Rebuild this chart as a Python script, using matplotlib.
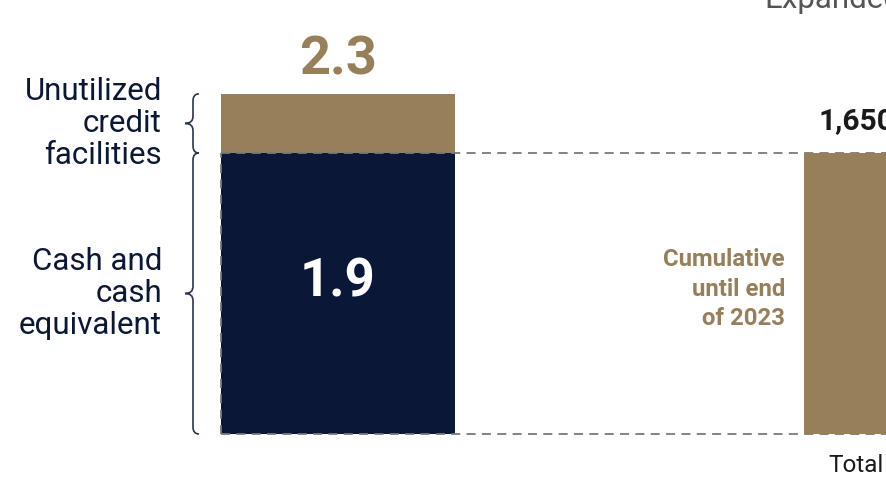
import matplotlib
matplotlib.use("Agg")
import matplotlib.pyplot as plt
from matplotlib.path import Path
from matplotlib.patches import PathPatch

plt.rcParams['font.family'] = ['Roboto', 'DejaVu Sans']

# data (USD bn on the left, units on the right)
cash = 1.9
credit = 0.4
liquidity_total = cash + credit
segment_labels = ['Cash and\ncash\nequivalent', 'Unutilized\ncredit\nfacilities']
right_value = 1650
right_label = 'Total'
right_note = 'Cumulative\nuntil end\nof 2023'
right_title = 'Expanded'

gold = '#977f5a'
navy = '#0b1736'
dash_grey = '#7a7a7a'

fig = plt.figure(figsize=(8.87, 4.79), dpi=100)
ax = fig.add_axes([0, 0, 1, 1])
# x in pixel-like layout units, y in data units
px_per_unit = 281 / cash
ax.set_xlim(0, 887)
ax.set_ylim(-45 / px_per_unit, 434 / px_per_unit)
ax.axis('off')

bar_w = 234
x_left = 338
ax.bar(x_left, cash, width=bar_w, color=navy, zorder=2)
ax.bar(x_left, credit, bottom=cash, width=bar_w, color=gold, zorder=2)

ax.annotate(f'{cash:.1f}', (x_left, cash / 2), xytext=(0, 8),
            textcoords='offset points', color='white', fontsize=38,
            fontweight='bold', ha='center', va='center', zorder=4)
ax.annotate(f'{liquidity_total:.1f}', (x_left, liquidity_total), xytext=(0, 14),
            textcoords='offset points', ha='center', va='baseline',
            fontsize=39, fontweight='bold', color=gold)

# right bar on its own scale, same height as the cash bar
ax2 = ax.twinx()
ax2.set_ylim(ax.get_ylim()[0] * right_value / cash, ax.get_ylim()[1] * right_value / cash)
ax2.axis('off')
x_right = 804 + bar_w / 2
ax2.bar(x_right, right_value, width=bar_w, color=gold, zorder=2)
ax2.annotate(f'{right_value:,}', (819, right_value), xytext=(0, 17),
             textcoords='offset points', ha='left', va='baseline',
             fontsize=21.5, fontweight='bold', color='#1a1a1a')

# dashed guide lines
left_edge = x_left - bar_w / 2
dash = dict(ls=(0, (5, 3.5)), color=dash_grey, lw=1.3, zorder=5)
ax.plot([left_edge, 900], [cash, cash], **dash)
ax.plot([left_edge, 900], [0, 0], **dash)
ax.plot([left_edge, left_edge], [0, cash], **dash)


def brace(y0, y1):
    r = 7 / px_per_unit
    xe, xs, xt = 199, 193, 185
    ym = (y0 + y1) / 2
    verts = [(xe, y1), (xs, y1), (xs, y1 - r),
             (xs, ym + r), (xs, ym), (xt, ym),
             (xs, ym), (xs, ym - r),
             (xs, y0 + r), (xs, y0), (xe, y0)]
    codes = [Path.MOVETO, Path.CURVE3, Path.CURVE3,
             Path.LINETO, Path.CURVE3, Path.CURVE3,
             Path.CURVE3, Path.CURVE3,
             Path.LINETO, Path.CURVE3, Path.CURVE3]
    ax.add_patch(PathPatch(Path(verts, codes), fill=False, ec='#2b3550', lw=1.2))


brace(0, cash)
brace(cash, liquidity_total)
ax.text(162, cash / 2, segment_labels[0], ha='right', va='center',
        fontsize=22.5, color=navy, linespacing=1.13)
ax.text(162, cash + credit / 2, segment_labels[1], ha='right', va='center',
        fontsize=22.5, color=navy, linespacing=1.13)

ax.text(785, 145 / px_per_unit, right_note, ha='right', va='center', fontsize=17.2,
        fontweight='bold', color=gold, linespacing=1.38)
ax.text(828, -32 / px_per_unit, right_label, ha='left', va='center',
        fontsize=17.5, color='#1a1a1a')
ax.text(764, 426 / px_per_unit, right_title, ha='left', va='baseline',
        fontsize=22.5, color='#555555')

fig.savefig('out.png', dpi=100)
